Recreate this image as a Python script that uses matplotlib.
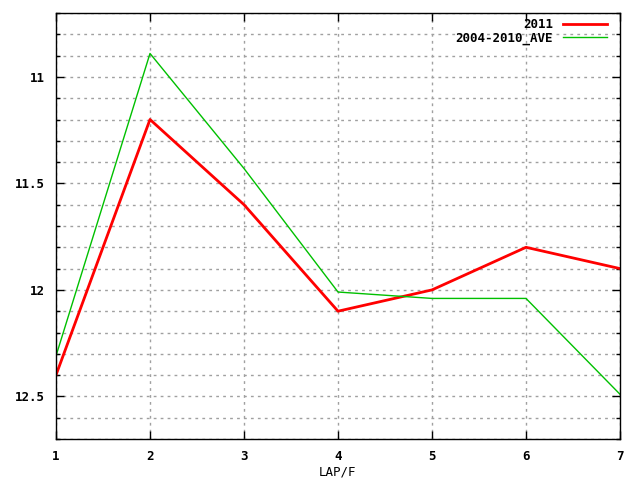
import matplotlib
matplotlib.use("Agg")
import matplotlib.pyplot as plt
from matplotlib.ticker import MultipleLocator, FormatStrFormatter

laps = [1, 2, 3, 4, 5, 6, 7]
y2011 = [12.40, 11.20, 11.60, 12.10, 12.00, 11.80, 11.90]
ave = [12.31, 10.89, 11.43, 12.01, 12.04, 12.04, 12.49]

plt.rcParams['font.family'] = ['DejaVu Sans Mono']
plt.rcParams['font.weight'] = 'bold'
plt.rcParams['font.size'] = 9

fig = plt.figure(figsize=(6.4, 4.8), dpi=100)
ax = fig.add_axes([56 / 640, 1 - 439 / 480, 564 / 640, 426 / 480])

ax.plot(laps, y2011, color="#ff0000", linewidth=2, label="2011")
ax.plot(laps, ave, color="#00c000", linewidth=1, label="2004-2010_AVE")

ax.set_xlim(1, 7)
ax.set_ylim(12.7, 10.7)
ax.yaxis.set_major_locator(MultipleLocator(0.5))
ax.yaxis.set_minor_locator(MultipleLocator(0.1))
ax.yaxis.set_major_formatter(FormatStrFormatter("%g"))
ax.xaxis.set_major_locator(MultipleLocator(1))
ax.tick_params(which="both", direction="in", top=True, right=True, width=1)
ax.tick_params(which="major", length=6, pad=8)
ax.tick_params(which="minor", length=3)
ax.grid(True, which="both", color="#a0a0a0", linestyle=(0, (2, 3)), linewidth=1)
ax.set_xlabel("LAP/F", labelpad=2)
for s in ax.spines.values():
    s.set_linewidth(1)

ax.legend(loc="upper right", bbox_to_anchor=(0.985, 1.0), frameon=False,
          markerfirst=False, handlelength=3.5, borderaxespad=0.1,
          labelspacing=0.05, borderpad=0.3)

fig.savefig("out.png", dpi=100)
